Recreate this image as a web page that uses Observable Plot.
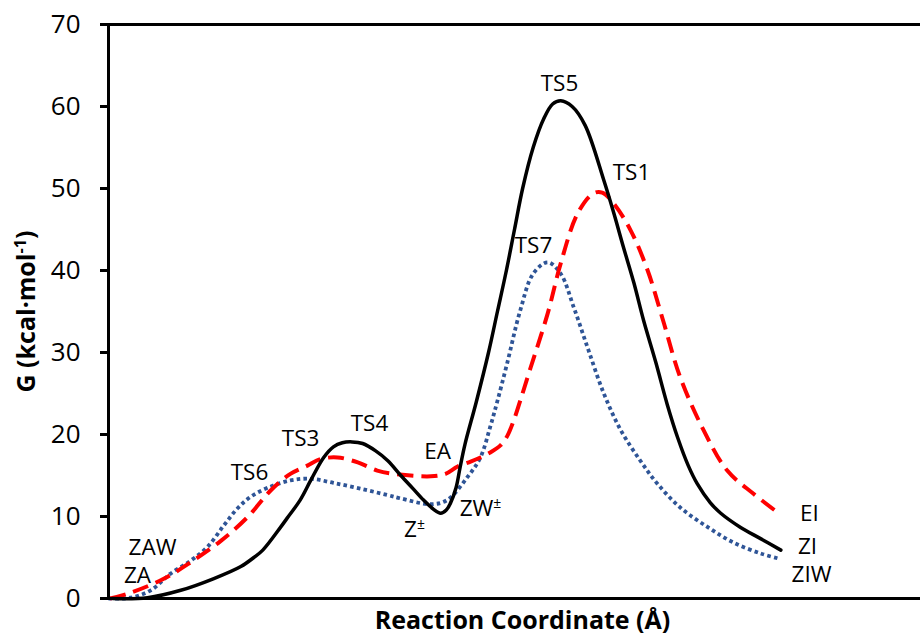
<!DOCTYPE html>
<html>
<head>
<meta charset="utf-8">
<script src="https://cdn.jsdelivr.net/npm/d3@7"></script>
<script src="https://cdn.jsdelivr.net/npm/@observablehq/plot@0.6"></script>
<style>
  html, body { margin: 0; padding: 0; background: #fff; }
  #chart svg { display: block; }
</style>
</head>
<body>
<div id="chart"></div>
<script>
// Y axis ticks
const yTicks = [0, 10, 20, 30, 40, 50, 60, 70];

// Black solid path: ZA -> TS4 -> Z± -> TS5 -> ZI  [reaction coordinate, G]
const pathBlack = [
  [0.5, 0], [4.8, 0.1], [8.9, 1.0], [12.9, 2.4], [16.3, 3.9], [17.9, 5.0], [19.0, 5.9],
  [21.2, 8.7], [22.0, 9.8], [23.6, 12.0], [24.9, 14.4], [26.5, 17.2], [27.7, 18.5],
  [28.8, 19.0], [30.0, 19.1], [31.3, 18.9], [32.9, 18.0], [34.4, 16.8], [36.0, 15.0],
  [37.5, 13.4], [38.8, 12.0], [40.0, 10.9], [40.9, 10.4], [41.6, 10.8], [42.1, 11.6],
  [42.8, 13.5], [43.3, 16.0], [43.9, 18.8], [45.3, 24.0], [46.8, 30.0], [47.9, 35.0],
  [49.0, 40.0], [50.0, 45.0], [51.0, 50.0], [52.3, 55.0], [53.6, 58.5], [54.7, 60.3],
  [55.7, 60.7], [57.1, 60.0], [58.7, 57.7], [61.0, 51.0], [62.2, 47.1], [63.4, 42.9],
  [64.7, 38.5], [65.9, 33.9], [67.4, 28.8], [68.8, 23.7], [70.1, 19.6], [71.4, 16.2],
  [72.5, 14.0], [74.1, 11.7], [75.4, 10.4], [77.8, 8.7], [80.3, 7.3], [82.8, 5.9]
];

// Red dashed path: ZA -> TS3 -> EA -> TS1 -> EI
const pathRed = [
  [0.2, 0], [2.7, 0.7], [6.8, 2.4], [10.1, 4.4], [13.8, 7.0], [17.1, 9.9], [20.0, 13.2],
  [22.4, 15.2], [24.5, 16.2], [26.1, 17.0], [28.2, 17.2], [30.7, 16.6], [33.1, 15.6],
  [35.1, 15.2], [39.7, 14.9], [41.5, 15.2], [43.0, 16.1], [44.6, 16.7], [45.8, 17.2],
  [47.0, 17.8], [48.3, 18.7], [49.1, 19.8], [49.9, 21.7], [50.7, 24.1], [52.0, 28.2],
  [54.1, 34.8], [55.7, 40.9], [57.8, 47.0], [59.7, 49.4], [60.8, 49.5], [62.2, 48.2],
  [64.3, 44.9], [66.4, 40.0], [68.3, 33.9], [70.4, 27.0], [73.3, 20.5], [76.2, 15.6],
  [79.4, 12.8], [82.4, 10.5]
];

// Blue dotted path: ZAW -> TS6 -> ZW± -> TS7 -> ZIW
const pathBlue = [
  [0, 0], [2.7, 0.1], [5.2, 1.0], [7.6, 3.0], [10.1, 4.6], [12.2, 6.3], [14.2, 8.9],
  [15.9, 11.0], [17.5, 12.4], [19.6, 13.5], [22.4, 14.4], [24.9, 14.6], [27.7, 14.1],
  [31.0, 13.4], [34.4, 12.6], [36.0, 12.2], [39.7, 11.5], [41.7, 12.0], [44.2, 14.8],
  [45.8, 17.2], [47.0, 20.9], [47.9, 24.1], [49.1, 28.7], [50.7, 35.1], [52.3, 39.6],
  [54.1, 41.0], [55.7, 39.6], [57.3, 35.5], [59.0, 30.6], [61.0, 25.0], [63.1, 20.5],
  [65.5, 16.8], [67.6, 14.0], [70.4, 11.1], [73.8, 8.7], [77.0, 6.8], [80.3, 5.5],
  [82.4, 4.9]
];

// Point labels
const labelNames = ["ZAW", "ZA", "TS6", "TS3", "TS4", "EA", "Z±", "ZW±", "TS7", "TS5", "TS1", "EI", "ZI", "ZIW"];
const labelX = [5.42, 3.57, 17.36, 23.65, 32.14, 40.52, 37.68, 45.81, 52.34, 55.54, 64.41, 86.33, 86.08, 86.58];
const labelY = [6.2, 2.75, 15.37, 19.51, 21.34, 17.93, 8.41, 10.98, 43.05, 62.80, 51.95, 10.37, 6.34, 2.93];

const labels = labelNames.map((t, i) => ({t, x: labelX[i], y: labelY[i]}));

const FONT = "'Open Sans', 'Noto Sans', sans-serif";

const chart = Plot.plot({
  width: 920,
  height: 638,
  marginLeft: 108,
  marginRight: 0,
  marginTop: 24,
  marginBottom: 40,
  style: {fontFamily: FONT, color: "black", background: "white"},
  x: {domain: [0, 100], axis: null},
  y: {domain: [0, 70], axis: null},
  marks: [
    Plot.line(pathBlue, {x: d => d[0], y: d => d[1], curve: "catmull-rom",
      stroke: "#2f5597", strokeWidth: 3.8, strokeDasharray: "3.6,3.2", strokeLinecap: "butt"}),
    Plot.line(pathRed, {x: d => d[0], y: d => d[1], curve: "catmull-rom",
      stroke: "#ff0000", strokeWidth: 4, strokeDasharray: "16,8", strokeLinecap: "butt"}),
    Plot.line(pathBlack, {x: d => d[0], y: d => d[1], curve: "catmull-rom",
      stroke: "black", strokeWidth: 3.5}),
    Plot.ruleY([0, 70], {stroke: "black", strokeWidth: 3}),
    Plot.ruleX([0], {y1: 0, y2: 70, stroke: "black", strokeWidth: 3}),
    Plot.axisY({ticks: yTicks, tickSize: 8, tickPadding: 20, strokeWidth: 3,
      fontSize: 26, tickFormat: d => String(d), label: null}),
    Plot.text(labels, {x: "x", y: "y", text: "t", fontSize: 22.5, fill: "black",
      textAnchor: "middle", lineAnchor: "middle"}),
    Plot.text(["Reaction Coordinate (Å)"], {frameAnchor: "bottom", dy: 22, dx: 8,
      fontSize: 25, fontWeight: "bold", fill: "black", textAnchor: "middle", lineAnchor: "middle"}),
    Plot.text(["G (kcal·mol-1)"], {frameAnchor: "left", dx: -82, rotate: -90,
      fontSize: 25, fontWeight: "bold", fill: "black", textAnchor: "middle", lineAnchor: "middle"})
  ]
});

// superscripts
chart.querySelectorAll("text").forEach(el => {
  const s = el.textContent;
  if (s.includes("±") && s.length <= 4) {
    el.textContent = "";
    const a = document.createElementNS("http://www.w3.org/2000/svg", "tspan");
    a.textContent = s.replace("±", "");
    const b = document.createElementNS("http://www.w3.org/2000/svg", "tspan");
    b.textContent = "±";
    b.setAttribute("font-size", "0.62em");
    b.setAttribute("dy", "-0.55em");
    el.appendChild(a); el.appendChild(b);
  } else if (s === "G (kcal·mol-1)") {
    el.textContent = "";
    const a = document.createElementNS("http://www.w3.org/2000/svg", "tspan");
    a.textContent = "G (kcal·mol";
    const b = document.createElementNS("http://www.w3.org/2000/svg", "tspan");
    b.textContent = "-1";
    b.setAttribute("font-size", "0.65em");
    b.setAttribute("dy", "-0.5em");
    const c = document.createElementNS("http://www.w3.org/2000/svg", "tspan");
    c.textContent = ")";
    c.setAttribute("dy", "0.32em");
    el.appendChild(a); el.appendChild(b); el.appendChild(c);
  }
});

document.getElementById("chart").appendChild(chart);
</script>
</body>
</html>
